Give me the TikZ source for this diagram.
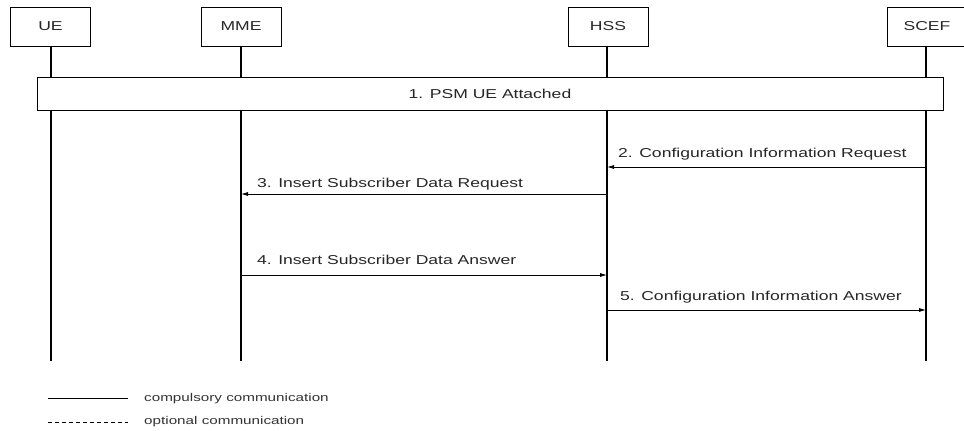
\documentclass[tikz,border=0pt]{standalone}
\usepackage{fontspec}
\newfontfamily\diafont[FakeStretch=1.36]{Liberation Sans}
\usetikzlibrary{arrows.meta}
\tikzset{
  entity/.style={draw, line width=1pt, minimum width=80pt, minimum height=39pt, inner sep=0pt, text=black!85},
  lifeline/.style={line width=1.2pt},
  phase/.style={draw, fill=white, line width=1pt, minimum width=906pt, minimum height=33pt, inner sep=0pt},
  msg/.style={line width=0.8pt, -{Latex[length=7pt,width=4pt]}},
  lbl/.style={inner sep=0pt, text=black!85, font=\diafont\fontsize{12.9}{14}\selectfont},
  keytext/.style={inner sep=0pt, text=black!80, anchor=base west, font=\diafont\fontsize{11.2}{13}\selectfont},
}
\begin{document}
\begin{tikzpicture}[x=1pt, y=-1pt, font=\diafont\fontsize{12.9}{14}\selectfont]
\useasboundingbox (0,0) rectangle (964,431);
\clip (0,0) rectangle (964,431);

% entity boxes
\node[entity] (UE)   at (50.5,26.5) {UE};
\node[entity] (MME)  at (241,26.5)  {MME};
\node[entity] (HSS)  at (608,26.5)  {HSS};
\node[entity] (SCEF) at (927,26.5)  {SCEF};

% lifeline ends
\coordinate (UEend)   at (51,361);
\coordinate (MMEend)  at (241,361);
\coordinate (HSSend)  at (607,361);
\coordinate (SCEFend) at (926,361);

\draw[lifeline] (UE.south -| UEend) -- (UEend);
\draw[lifeline] (MME.south -| MMEend) -- (MMEend);
\draw[lifeline] (HSS.south -| HSSend) -- (HSSend);
\draw[lifeline] (SCEF.south -| SCEFend) -- (SCEFend);

% step 1 spanning all entities
\node[phase] (attach) at (490,93.5) {};
\node[lbl, anchor=base] (attachtxt) at (490,98) {1. PSM UE Attached};

% messages
\coordinate (m2s) at (SCEFend |- 0,167);
\coordinate (m2e) at (HSSend |- 0,167);
\draw[msg] (m2s) -- (m2e);
\node[lbl, anchor=base west] (l2) at (618,157) {2. Configuration Information Request};

\coordinate (m3s) at (HSSend |- 0,194);
\coordinate (m3e) at (MMEend |- 0,194);
\draw[msg] (m3s) -- (m3e);
\node[lbl, anchor=base west] (l3) at (257,187) {3. Insert Subscriber Data Request};

\coordinate (m4s) at (MMEend |- 0,275);
\coordinate (m4e) at (HSSend |- 0,275);
\draw[msg] (m4s) -- (m4e);
\node[lbl, anchor=base west] (l4) at (257,264) {4. Insert Subscriber Data Answer};

\coordinate (m5s) at (HSSend |- 0,310);
\coordinate (m5e) at (SCEFend |- 0,310);
\draw[msg] (m5s) -- (m5e);
\node[lbl, anchor=base west] (l5) at (620,300) {5. Configuration Information Answer};

% legend
\coordinate (k1a) at (48,398);
\coordinate (k1b) at (128,398);
\draw[line width=0.8pt] (k1a) -- (k1b);
\node[keytext] (k1t) at (144,401) {compulsory communication};
\coordinate (k2a) at (48,422);
\coordinate (k2b) at (128,422);
\draw[line width=0.7pt, dash pattern=on 4pt off 3pt] (k2a) -- (k2b);
\node[keytext] (k2t) at (144,424) {optional communication};
\end{tikzpicture}
\end{document}
